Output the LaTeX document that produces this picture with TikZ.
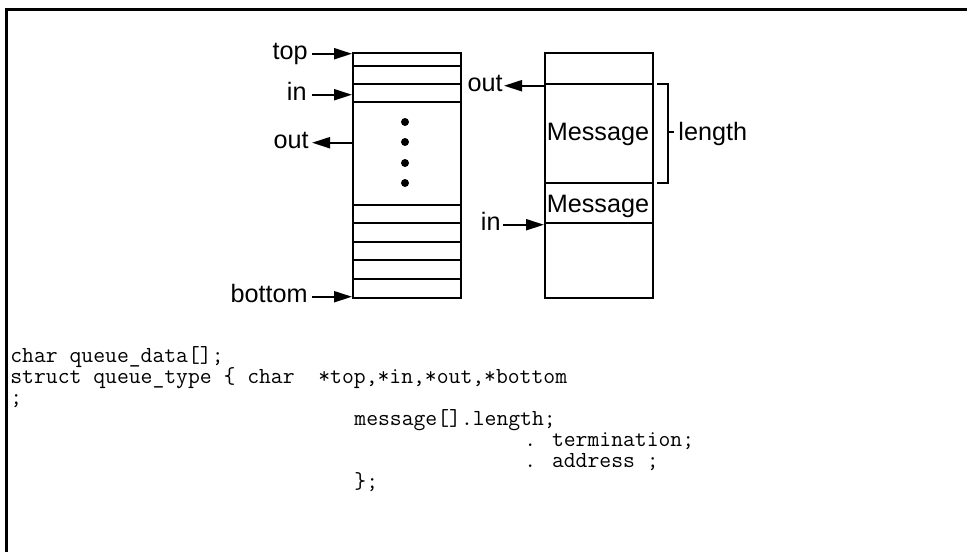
\documentclass[tikz,border=0pt]{standalone}
\usepackage{fontspec}
\setmainfont{Liberation Sans}
\usetikzlibrary{arrows.meta}

\begin{document}
\begin{tikzpicture}[x=0.5pt,y=-0.5pt,
  stack/.style={draw, line width=1.2pt, minimum width=54pt, minimum height=122.5pt,
    inner sep=0pt, anchor=north west},
  rule/.style={line width=1.2pt},
  lbl/.style={font=\fontsize{12.6}{15}\selectfont, inner sep=0pt},
  code/.style={font=\ttfamily\addfontfeatures{FakeBold=0.4}\fontsize{11.5}{13}\selectfont,
    inner sep=0pt, anchor=base west},
  ptr/.style={line width=1pt, -{Triangle[length=9pt,width=5.5pt]}},
]
\useasboundingbox (0,0) rectangle (967,552);

% frame along the top and left edges
\draw[line width=1.5pt] (6.5,552) -- (6.5,9.5) -- (967,9.5);

% queue buffer with its slots
\node[stack] (buf) at (352,52) {};
\foreach \yy in {66,84,102,205,223,242,260,279}
  \draw[rule] (352,\yy) -- (460,\yy);
\foreach \yy in {122,142,163,183}
  \fill (405,\yy) circle[radius=2pt];

% pointer labels on the buffer
\node[lbl, anchor=base east] (ltop) at (308,59) {top};
\node[lbl, anchor=base east] (lin)  at (307,100) {in};
\node[lbl, anchor=base east] (lout) at (309,148) {out};
\node[lbl, anchor=base east] (lbot) at (308,302) {bottom};
\draw[ptr] ([xshift=2pt]ltop.mid east) -- (ltop.mid east -| buf.west);
\draw[ptr] ([xshift=2.5pt]lin.mid east)  -- (lin.mid east -| buf.west);
\draw[ptr] (lout.mid east -| buf.west) -- ([xshift=1.5pt]lout.mid east);
\draw[ptr] ([xshift=2pt]lbot.mid east) -- (lbot.mid east -| buf.west);

% message queue
\node[stack] (mq) at (544,52) {};
\foreach \yy in {84,183,223}
  \draw[rule] (544,\yy) -- (652,\yy);
\node[lbl, anchor=base] (m1) at (598,140) {Message};
\node[lbl, anchor=base] (m2) at (598,212) {Message};

\node[lbl, anchor=base east] (rout) at (503,91) {out};
\node[lbl, anchor=base east] (rin)  at (501,230) {in};
\draw[ptr] (rout.mid east -| mq.west) -- ([xshift=0.5pt]rout.mid east);
\draw[ptr] ([xshift=1pt]rin.mid east) -- (rin.mid east -| mq.west);

% length bracket
\draw[rule] (657,84) -- (668,84) -- (668,183) -- (657,183);
\coordinate (tick) at (668,132);
\node[lbl, anchor=base west] (len) at (678,140) {length};
\draw[rule] (tick) -- ([xshift=-2pt]len.west |- tick);

% declarations
\node[code] (c1) at (10,362) {char queue\_data[];};
\node[code] (c2) at (10,383) {struct queue\_type \{ char\ \ *top,*in,*out,*bottom};
\node[code] (c3) at (10,404) {;};
\node[code] (c4) at (354,425) {message[].length;};
\node[code] (c5) at (524,446) {. termination;};
\node[code] (c6) at (524,467) {. address ;};
\node[code] (c7) at (354,488) {\};};
\end{tikzpicture}
\end{document}
